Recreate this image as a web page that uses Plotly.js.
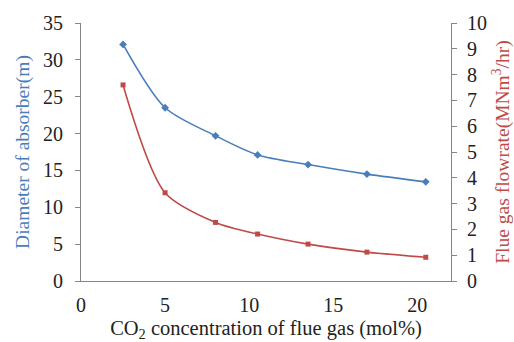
<!DOCTYPE html>
<html>
<head>
<meta charset="utf-8">
<script src="https://cdn.plot.ly/plotly-3.0.1.min.js"></script>
<style>html,body{margin:0;padding:0;background:#fff;}#chart{width:514px;height:342px;}</style>
</head>
<body>
<div id="chart"></div>
<script>
const co2 = [2.5, 5, 8, 10.5, 13.5, 17, 20.5];
const diameter = [32.1, 23.5, 19.7, 17.1, 15.8, 14.5, 13.45];
const flowrate = [7.6, 3.42, 2.27, 1.82, 1.43, 1.12, 0.92];

const fam = 'Liberation Serif, Times New Roman, serif';
const tickFont = {family: fam, size: 20, color: '#222'};
const blue = '#4a7ebb';
const red = '#be4b48';
const axisCol = '#868686';

const traces = [
  {x: co2, y: diameter, type: 'scatter', mode: 'lines+markers', yaxis: 'y',
   line: {color: blue, width: 1.6, shape: 'spline', smoothing: 0.8},
   marker: {symbol: 'diamond', size: 6, color: blue}},
  {x: co2, y: flowrate, type: 'scatter', mode: 'lines+markers', yaxis: 'y2',
   line: {color: red, width: 1.6, shape: 'spline', smoothing: 0.8},
   marker: {symbol: 'square', size: 5, color: red}}
];

const layout = {
  width: 514, height: 342,
  margin: {l: 81, r: 63, t: 23, b: 61},
  paper_bgcolor: '#fff', plot_bgcolor: '#fff',
  showlegend: false,
  font: tickFont,
  xaxis: {range: [0, 22], dtick: 5, tick0: 0, showgrid: false, zeroline: false,
    showline: true, linecolor: axisCol, linewidth: 1, ticks: '', ticklen: 0,
    tickfont: tickFont, ticklabelstandoff: 6,
    title: {text: 'CO<sub>2</sub> concentration of flue gas (mol%)', font: {family: fam, size: 20.5, color: '#222'}, standoff: 5}},
  yaxis: {range: [0, 35], dtick: 5, showgrid: false, zeroline: false,
    showline: true, linecolor: axisCol, linewidth: 1, ticks: 'outside', ticklen: 5, tickcolor: axisCol,
    tickfont: tickFont, ticklabelstandoff: 8,
    title: {text: 'Diameter of absorber(m)', font: {family: fam, size: 19.5, color: blue}, standoff: 8}},
  yaxis2: {range: [0, 10], dtick: 1, overlaying: 'y', side: 'right', showgrid: false, zeroline: false,
    showline: true, linecolor: axisCol, linewidth: 1, ticks: 'outside', ticklen: 5, tickcolor: axisCol,
    tickfont: tickFont, ticklabelstandoff: 6,
    title: {text: 'Flue gas flowrate(MNm<sup>3</sup>/hr)', font: {family: fam, size: 19.5, color: red}, standoff: 9}}
};

Plotly.newPlot('chart', traces, layout, {displayModeBar: false, staticPlot: true});
</script>
</body>
</html>
